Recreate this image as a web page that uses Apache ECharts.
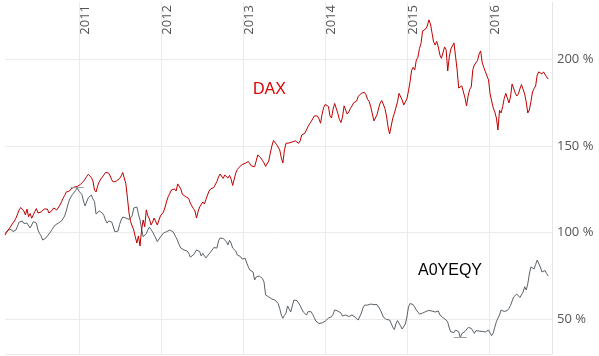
<!DOCTYPE html>
<html><head><meta charset="utf-8">
<script src="https://cdn.jsdelivr.net/npm/echarts@6/dist/echarts.min.js"></script>
<style>html,body{margin:0;padding:0;background:#fff}#c{width:599px;height:356px}</style>
</head><body><div id="c"></div><script>
// weekly samples starting 2010-02-04; "even" = weeks 0,2,4,...  "odd" = weeks 1,3,5,...
const startDate = [2010, 1, 4];
const stepDays = 7;
const axisStart = [2010, 1, 4];
const axisEnd = [2016, 9, 9];
const seriesNames = ['DAX', 'A0YEQY'];
const daxEven = [
98.6,101.5,103.8,106.7,110.7,114.5,112.5,113.6,111.0,110.2,
113.9,110.2,112.8,114.5,111.3,112.8,114.8,114.0,117.7,121.4,
122.9,125.2,126.3,126.6,127.8,129.5,132.3,134.1,129.8,123.4,
129.2,131.8,134.7,134.4,130.4,128.5,130.4,132.7,134.4,120.0,
106.4,101.5,94.0,92.3,107.3,113.1,107.9,106.1,107.3,105.0,
109.0,114.8,120.8,124.6,125.2,128.1,125.2,121.1,120.3,117.1,
113.9,108.4,114.8,117.7,119.1,124.0,126.0,126.6,132.1,133.0,
133.2,131.5,130.9,127.5,136.4,138.4,139.7,140.7,139.9,139.3,
141.3,143.9,141.6,138.2,141.3,150.0,153.4,151.7,143.1,147.7,
151.5,151.7,152.3,152.6,152.9,156.9,159.2,162.7,165.0,168.4,
165.6,168.4,173.9,172.8,166.1,174.5,168.8,163.5,173.1,168.4,
171.6,174.8,175.9,179.4,180.0,179.4,175.6,168.4,165.0,171.9,
176.2,171.6,160.9,158.0,168.7,175.4,180.0,173.6,177.1,186.9,
195.3,199.6,206.2,216.3,217.5,222.7,215.2,208.2,207.1,200.5,
207.1,193.2,205.9,209.4,193.8,183.4,184.6,173.1,182.6,194.1,
197.6,203.0,197.9,192.7,188.1,175.9,169.6,159.2,169.0,177.4,
181.1,178.2,184.6,178.8,182.9,184.9,175.4,170.7,181.1,184.6,
192.7,191.5,192.4,188.6];
const daxOdd = [
100.1,102.7,105.5,108.4,113.1,114.0,110.2,109.2,108.3,112.1,
111.3,111.9,113.6,113.6,110.7,114.2,113.1,115.9,119.8,123.4,
124.0,125.7,126.6,126.6,128.6,130.4,133.6,131.8,124.6,126.9,
130.9,133.2,135.4,132.7,129.2,129.8,131.2,134.7,128.1,111.3,
103.8,97.5,98.1,101.5,103.4,109.6,104.4,108.4,104.4,109.6,
111.9,118.2,122.7,123.6,124.0,127.8,122.0,120.8,119.7,115.4,
112.5,112.1,114.2,116.5,121.7,125.2,126.0,129.5,133.8,131.3,
132.3,133.0,127.2,134.4,137.6,139.2,140.0,141.0,138.4,138.0,
144.8,143.0,140.2,137.3,145.9,153.1,150.8,147.7,140.2,151.5,
151.7,152.3,152.9,151.5,156.3,157.3,161.1,164.0,167.3,167.3,
163.1,172.2,174.5,167.3,171.3,173.6,165.3,166.7,170.7,169.6,
173.0,175.6,178.5,180.4,180.9,176.8,172.5,164.4,168.1,174.8,
175.4,167.3,156.9,166.0,169.6,180.3,176.5,174.2,181.7,193.5,
193.8,201.0,209.1,215.3,219.2,220.4,210.0,210.3,202.5,200.7,
205.4,201.3,204.8,209.4,183.4,184.6,177.7,178.8,184.0,196.7,
199.3,204.8,195.3,192.1,180.0,171.9,166.1,170.5,172.6,180.3,
174.8,185.7,180.5,180.0,185.4,180.0,169.0,175.5,183.0,190.9,
191.8,192.7,189.8];
const a0yeqyEven = [
99.6,101.5,101.8,100.9,103.8,106.7,105.3,105.5,102.7,106.3,
105.5,99.5,95.7,96.9,99.2,101.8,104.4,105.5,106.7,109.6,
115.9,120.6,123.1,126.0,123.4,118.2,116.5,120.8,119.4,110.7,
112.5,111.3,107.3,106.7,106.1,100.5,100.9,107.3,109.0,107.9,
107.3,114.2,114.8,107.3,97.6,99.5,103.2,100.4,96.9,95.2,
98.6,100.4,100.9,101.2,99.8,95.2,91.1,90.0,89.4,85.9,
87.1,90.0,89.1,88.0,85.4,87.7,90.0,91.4,95.2,97.6,
95.7,92.9,94.0,90.0,87.1,86.2,84.5,82.5,78.4,77.3,
74.4,75.0,73.5,64.0,62.9,61.7,61.1,59.1,52.5,52.2,
57.7,54.2,61.1,60.8,58.0,54.2,52.5,55.4,52.8,49.0,
47.6,47.9,49.0,50.7,51.5,55.4,54.8,53.6,51.6,52.2,
51.9,52.2,50.2,50.7,56.5,58.2,59.1,58.8,59.4,57.7,
53.6,50.5,49.6,48.6,44.1,49.3,46.1,44.4,51.3,59.1,
58.5,55.4,53.0,53.6,54.5,55.1,54.8,54.2,54.8,51.9,
50.7,48.4,42.7,42.4,44.4,39.5,42.4,44.1,46.4,43.8,
43.5,43.2,43.0,42.7,43.8,40.6,45.5,50.7,55.4,54.5,
55.1,58.0,62.9,64.6,62.6,65.7,66.9,76.1,80.7,81.6,
83.6,77.3,78.1,75.0];
const a0yeqyOdd = [
100.6,102.4,100.6,101.5,106.1,106.7,104.4,106.1,104.4,105.8,
101.5,98.1,94.8,98.1,100.4,103.2,105.0,106.3,107.3,112.5,
118.8,122.0,124.3,124.0,122.0,115.4,120.0,121.7,118.0,111.3,
111.9,109.9,105.5,107.3,105.0,100.5,104.7,109.0,108.4,107.6,
109.6,115.1,110.7,102.1,98.6,101.5,101.8,98.6,94.8,97.5,
99.8,100.6,101.5,100.5,97.2,92.9,90.3,89.7,88.2,84.8,
88.2,90.6,86.5,87.1,86.5,88.5,91.4,91.1,96.9,96.6,
94.8,95.5,91.1,89.4,86.5,84.8,85.1,80.2,79.3,72.7,
73.8,75.5,71.5,62.9,62.6,61.1,60.8,56.2,50.6,53.6,
55.9,57.7,61.7,59.7,55.9,53.3,54.4,54.4,51.0,48.1,
47.6,48.4,49.9,51.3,53.0,55.4,55.4,51.9,52.5,51.6,
52.5,51.3,49.6,53.6,58.2,58.2,58.8,58.5,58.5,55.6,
51.3,49.9,49.6,45.5,47.3,48.7,44.4,47.3,57.1,60.0,
58.2,55.1,51.9,54.2,55.1,55.1,53.9,54.4,52.5,51.0,
49.6,45.0,43.5,43.8,42.8,41.8,43.0,45.3,44.8,41.9,
42.8,43.2,42.4,43.2,42.1,42.1,48.6,52.5,56.2,53.6,
56.3,58.8,63.7,64.9,62.3,68.8,70.4,80.2,79.0,84.2,
80.2,77.3,76.4];

const weave = (even, odd) => even.flatMap((v, i) => i < odd.length ? [v, odd[i]] : [v]);
const daxValues = weave(daxEven, daxOdd);
const a0yeqyValues = weave(a0yeqyEven, a0yeqyOdd);
const dates = daxValues.map((_, i) => new Date(startDate[0], startDate[1], startDate[2] + i * stepDays).getTime());
const pair = vals => vals.map((v, i) => [dates[i], v]);

const FONT = '"Open Sans", sans-serif';
const chart = echarts.init(document.getElementById('c'), null, {renderer: 'canvas'});
chart.setOption({
  animation: false,
  backgroundColor: '#fff',
  grid: {left: 5, right: 47, top: 2, bottom: 2, containLabel: false, outerBoundsMode: 'none'},
  xAxis: {
    type: 'time',
    position: 'top',
    min: new Date(axisStart[0], axisStart[1], axisStart[2]).getTime(),
    max: new Date(axisEnd[0], axisEnd[1], axisEnd[2]).getTime(),
    minInterval: 365 * 24 * 3600 * 1000,
    axisLine: {show: false},
    axisTick: {show: false},
    splitLine: {show: true, showMinLine: false, showMaxLine: false, lineStyle: {color: '#ebebeb', width: 1}},
    axisLabel: {
      inside: true, rotate: -90, margin: 3,
      align: 'right', verticalAlign: 'top',
      color: '#555', fontFamily: FONT, fontSize: 13,
      formatter: v => String(new Date(v).getFullYear()),
      showMinLabel: false, showMaxLabel: false
    }
  },
  yAxis: {
    type: 'value',
    position: 'right',
    min: 30, max: 233,
    axisLine: {show: true, lineStyle: {color: '#e6e6e6'}},
    axisTick: {show: false},
    splitLine: {show: true, showMaxLine: false, lineStyle: {color: '#ebebeb', width: 1}},
    axisLabel: {
      color: '#555', fontFamily: FONT, fontSize: 13, margin: 5,
      formatter: '{value} %', showMinLabel: false, showMaxLabel: false
    }
  },
  series: [
    {
      name: seriesNames[1], type: 'line', showSymbol: false, symbol: 'none',
      data: pair(a0yeqyValues),
      lineStyle: {color: '#5a6268', width: 1},
      itemStyle: {color: '#5a6268'},
      markPoint: {
        symbol: 'rect', symbolSize: [13, 1],
        itemStyle: {color: '#a0a0a0'},
        label: {show: false},
        data: [{type: 'max'}, {type: 'min'}]
      }
    },
    {
      name: seriesNames[0], type: 'line', showSymbol: false, symbol: 'none',
      data: pair(daxValues),
      lineStyle: {color: '#c00000', width: 1},
      itemStyle: {color: '#c00000'}
    }
  ],
  graphic: [
    {type: 'text', left: 253, top: 82, style: {text: seriesNames[0], fill: '#dd0000', font: '16px "Liberation Sans", Arial, sans-serif'}},
    {type: 'text', left: 418, top: 263, style: {text: seriesNames[1], fill: '#000', font: '16px "Liberation Sans", Arial, sans-serif'}}
  ]
});
</script></body></html>
